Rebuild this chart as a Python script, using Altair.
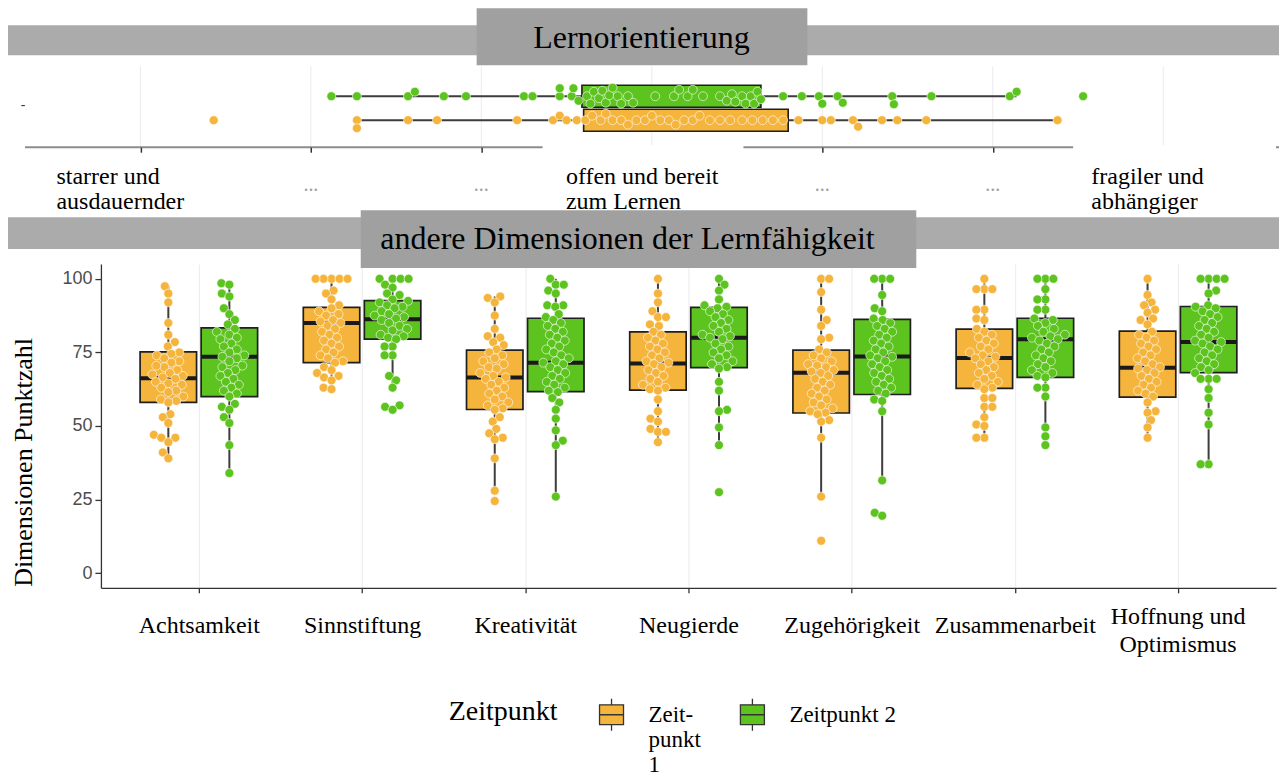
import json
import numpy as np
import pandas as pd
import altair as alt

# ---------------- Daten ----------------
zeitpunkte = ["Zeitpunkt 1", "Zeitpunkt 2"]
farben = ["#F5B43C", "#5CC31F"]

titel_oben = "Lernorientierung"
titel_unten = "andere Dimensionen der Lernfähigkeit"
y_titel = "Dimensionen Punktzahl"
legenden_titel = "Zeitpunkt"
legenden_labels = [["Zeit-", "punkt", "1"], ["Zeitpunkt 2", " ", " "]]

# obere Skala (Lernorientierung)
lern_ticks = [1, 2, 3, 4, 5, 6, 7]
lern_labels = [["starrer und", "ausdauernder"], "...", "...", ["offen und bereit", "zum Lernen"],
               "...", "...", ["fragiler und", "abhängiger"]]
lern_t1 = [1.43, 2.27, 2.27, 2.57, 2.74, 3.21, 3.42, 3.46, 3.50, 3.56, 3.61, 3.65, 3.70, 3.73, 3.77,
           3.82, 3.86, 3.91, 3.96, 4.00, 4.05, 4.10, 4.14, 4.19, 4.24, 4.28, 4.34, 4.40, 4.46, 4.53,
           4.59, 4.65, 4.71, 4.77, 4.86, 5.00, 5.05, 5.18, 5.21, 5.35, 5.44, 5.61, 6.38]
lern_t2 = [2.12, 2.27, 2.57, 2.61, 2.78, 2.91, 3.25, 3.30, 3.46, 3.46, 3.53, 3.54, 3.57, 3.62, 3.64,
           3.66, 3.69, 3.71, 3.73, 3.75, 3.77, 3.80, 3.82, 3.86, 3.89, 4.02, 4.13, 4.16, 4.21, 4.24,
           4.30, 4.40, 4.44, 4.47, 4.49, 4.53, 4.55, 4.58, 4.60, 4.62, 4.64, 4.77, 4.88, 4.98, 5.00,
           5.09, 5.12, 5.41, 5.42, 5.64, 6.10, 6.14, 6.53]
lern_lo = [2.27, 2.12]
lern_q1 = [3.60, 3.59]
lern_q3 = [4.80, 4.64]
lern_hi = [6.38, 6.14]

# untere Skala (andere Dimensionen)
dimensionen = ["Achtsamkeit", "Sinnstiftung", "Kreativität", "Neugierde", "Zugehörigkeit",
               "Zusammenarbeit", "Hoffnung und Optimismus"]
dim_labels = ["Achtsamkeit", "Sinnstiftung", "Kreativität", "Neugierde", "Zugehörigkeit",
              "Zusammenarbeit", ["Hoffnung und", "Optimismus"]]
y_ticks = [0, 25, 50, 75, 100]

achtsamkeit_t1 = [97.5, 95, 92, 85, 81, 78.5, 77, 75, 74, 74.5, 73, 72, 71.5, 70, 70.5, 69, 68, 67.5,
                  67, 66, 66.5, 65, 64.5, 64, 63, 62, 61.5, 60, 59, 58.5, 58, 54, 53, 51, 47, 46, 46,
                  44.5, 41, 39]
achtsamkeit_t2 = [98.5, 98, 95, 94, 90, 88, 86, 84.5, 83, 82, 81, 80, 79.5, 78, 77, 76, 75, 74, 73.5,
                  73, 72, 70.5, 70, 69, 68, 67, 66, 65, 64, 63, 62, 61, 60, 57.5, 56.5, 55.5, 53, 51,
                  43.5, 34]
sinnstiftung_t1 = [100, 100, 100, 100, 100, 96, 95, 93, 91, 90, 89, 88, 87.5, 86, 85.5, 85, 84, 83,
                   82, 81, 80, 79, 78, 77, 76, 75, 74, 73, 72, 71.5, 70, 69, 68, 67, 66.5, 65.5, 63,
                   62.5]
sinnstiftung_t2 = [100, 100, 100, 100, 98, 97, 95, 94.5, 93, 92.5, 92, 91, 90.5, 90, 89, 88, 87.5, 87,
                   86.5, 86, 85, 84, 83, 82.5, 81, 80.5, 80, 79.5, 77, 77, 74, 74, 67, 65.5, 63, 57,
                   56.5, 55.5]
kreativitaet_t1 = [94, 93.5, 92, 87.5, 83, 80.5, 80, 78.5, 77.5, 76, 75, 74, 73, 72, 71, 70, 69.5, 68,
                   67, 66.5, 66, 65, 64, 63, 62, 61, 60, 59, 58, 57, 56, 55.5, 53, 51.5, 49, 47.5, 46,
                   45.5, 39, 28, 24.5]
kreativitaet_t2 = [100, 98, 98, 96, 95, 91, 91, 90.5, 88, 87, 86, 85, 84, 83, 82, 81, 80, 79, 78, 77,
                   76, 75, 74, 73, 72, 71.5, 71, 70, 69, 68, 67, 66, 65, 64, 63, 62, 61.5, 59.5, 58,
                   55.5, 52.5, 48.5, 45, 43.5, 26]
neugierde_t1 = [100, 95, 92, 89, 87, 87, 84.5, 84, 82, 81, 80, 79, 78, 77, 76, 75, 74, 73, 72, 71.5,
                71, 70, 69, 68, 67, 66, 65, 64, 63, 62.5, 62, 59, 55, 52.5, 51.5, 49, 48, 48, 44.5]
neugierde_t2 = [100, 98, 96, 93, 91, 90.5, 90, 89, 88, 87, 86, 85, 84, 83, 82, 81, 80.5, 80, 79.5, 78,
                77, 76, 75, 74, 73, 72, 71, 70, 69.5, 65, 62, 55.5, 55, 49.5, 43.5, 27.5]
zugehoerigkeit_t1 = [100, 100, 95.5, 89.5, 86, 84, 80, 79.5, 76, 75, 74, 73, 72, 71, 70.5, 70, 69,
                     68.5, 68, 67, 66, 65, 64, 63, 62, 61, 60, 59, 58, 57, 56, 55, 54.5, 54, 52, 51.5,
                     46, 26, 11]
zugehoerigkeit_t2 = [100, 100, 100, 94.5, 90, 89, 86.5, 86, 85, 84, 83, 82, 81, 80, 79, 78, 77, 76, 75,
                     74, 73.5, 73, 72, 71, 70, 69, 68, 67, 66, 65, 64, 63, 62, 61, 59, 58.5, 55, 31.5,
                     20.5, 19.5]
zusammenarbeit_t1 = [100, 96.5, 96.5, 96.5, 89.5, 89.5, 86.5, 86, 83, 82, 81, 80, 79, 78, 77, 76, 75,
                     74, 73.5, 73, 72, 71, 70, 69, 68, 67, 66, 65, 64, 63, 62.5, 59.5, 59.5, 56.5, 56.5,
                     53, 50.5, 50, 46, 46]
zusammenarbeit_t2 = [100, 100, 100, 96.5, 93, 93, 89.5, 89.5, 86.5, 86, 85, 84, 83, 82, 81, 80.5, 80,
                     79.5, 79, 78, 77, 76, 75, 74, 73, 72, 71, 70, 69, 68, 67, 66.5, 63, 63, 60, 49.5,
                     46.5, 43.5]
hoffnung_t1 = [100, 94.5, 92, 91, 89.5, 88.5, 86.5, 86, 84.5, 82, 81, 80, 79, 78, 77, 76, 75, 74, 73,
               72, 71, 70, 69.5, 69, 68, 67, 66, 65, 64, 63, 62, 61, 60, 58, 55, 54.5, 52, 49.5, 46]
hoffnung_t2 = [100, 100, 100, 100, 96, 95, 91, 90.5, 90, 89, 88, 87, 86, 85, 84, 83, 82, 81, 80, 79,
               78.5, 78, 77, 76, 75, 74, 73, 72, 71, 70, 69, 68, 66, 66, 66, 62.5, 59.5, 54.5, 50.5,
               37, 37]

punkte_t1 = [achtsamkeit_t1, sinnstiftung_t1, kreativitaet_t1, neugierde_t1, zugehoerigkeit_t1,
             zusammenarbeit_t1, hoffnung_t1]
punkte_t2 = [achtsamkeit_t2, sinnstiftung_t2, kreativitaet_t2, neugierde_t2, zugehoerigkeit_t2,
             zusammenarbeit_t2, hoffnung_t2]

# Boxplot-Kennwerte je Dimension
q1_t1 = [58, 71.5, 55.6, 62.2, 54.4, 62.8, 59.8]
med_t1 = [66.2, 85, 66.5, 71.2, 68.1, 73.1, 69.8]
q3_t1 = [75.2, 90.3, 75.8, 82, 75.8, 82.9, 82.2]
lo_t1 = [39.3, 62.5, 28, 44.5, 26, 46, 46]
hi_t1 = [97.5, 100, 94, 100, 100, 100, 100]
q1_t2 = [60, 79.5, 61.7, 69.8, 60.7, 66.5, 68.1]
med_t2 = [73.5, 86.3, 71.5, 80, 73.6, 79.5, 78.5]
q3_t2 = [83.3, 92.6, 86.6, 90.3, 86.2, 86.6, 90.6]
lo_t2 = [34, 63, 26, 43.5, 31.5, 43.5, 37]
hi_t2 = [98.5, 100, 100, 100, 100, 100, 100]

# ---------------- Layout / Stil ----------------
SERIF = "Liberation Serif"
SANS = "Liberation Sans"
TOP_W, TOP_H = 1255, 81
BOT_W, BOT_H = 1176, 324
SPACER_W = 76
V_GAP = 117
TOP_XDOM = [0.323, 7.679]
TOP_YDOM = [-0.25, 3.125]
BOT_XDOM = [0.4, 7.6]
BOT_YDOM = [-5, 105]
DODGE = 0.187
HALF_BOX = 0.173
TOP_HALF = 0.458
BAND_COL = "#ababab"
BOX_COL = "#a0a0a0"
WHISK_COL = "#3d3d3d"
EDGE_COL = "#1f1f1f"
PT_SIZE = 80

px_top_x = TOP_W / (TOP_XDOM[1] - TOP_XDOM[0])
px_top_y = TOP_H / (TOP_YDOM[1] - TOP_YDOM[0])
px_bot_x = BOT_W / (BOT_XDOM[1] - BOT_XDOM[0])
px_bot_y = BOT_H / (BOT_YDOM[1] - BOT_YDOM[0])


def swarm(values, px_per_unit, d, maxoff, step=0.5):
    """deterministic beeswarm offsets (pixels) perpendicular to the value axis"""
    vals = np.asarray(values, float)
    order = np.argsort(vals, kind="stable")
    P, O = [], []
    offs = np.zeros(len(vals))
    n = int(maxoff / step)
    base = [0.0]
    for k in range(1, n + 1):
        base += [k * step, -k * step]
    for cnt, i in enumerate(order):
        p = vals[i] * px_per_unit
        cands = base if cnt % 2 == 0 else [-c for c in base]
        Pa, Oa = np.array(P), np.array(O)
        chosen = None
        for c in cands:
            if len(Pa) == 0 or np.all((Pa - p) ** 2 + (Oa - c) ** 2 >= d * d):
                chosen = c
                break
        if chosen is None:
            chosen = max(cands, key=lambda c: np.min((Pa - p) ** 2 + (Oa - c) ** 2))
        offs[i] = chosen
        P.append(p)
        O.append(chosen)
    return offs


one = pd.DataFrame({"a": [0]})
color_scale = alt.Scale(domain=zeitpunkte, range=farben)

SYMBOL = "M-0.75,-0.62H0.75V0.62H-0.75Z M0,-0.62V-1 M0,0.62V1 M-0.75,0H0.75"
legend = alt.Legend(
    orient="none", legendX=424, legendY=632, direction="horizontal",
    title=legenden_titel, titleOrient="left", titleAnchor="start", titleBaseline="top",
    titleFont=SERIF, titleFontSize=28, titleFontWeight="normal", titleColor="black",
    titlePadding=37,
    symbolType=SYMBOL, symbolSize=1024, symbolStrokeColor="#333333", symbolStrokeWidth=1.3,
    symbolOpacity=1, labelFont=SERIF, labelFontSize=23, labelColor="black", labelOffset=20,
    labelExpr=f"{json.dumps(legenden_labels, ensure_ascii=False)}[indexof({json.dumps(zeitpunkte, ensure_ascii=False)}, datum.label)]",
    labelLimit=0, columnPadding=34)


def farbe():
    return alt.Color("zeit:N", scale=color_scale, legend=legend, title=legenden_titel)


def deco_rect(x, x2, y, y2, color):
    return alt.Chart(one).mark_rect(color=color).encode(
        x=alt.value(x), x2=alt.value(x2), y=alt.value(y), y2=alt.value(y2))


def deco_text(text, x, y, size, color="black", font=SERIF):
    return alt.Chart(one).mark_text(text=text, font=font, fontSize=size, color=color,
                                    align="center", baseline="middle").encode(
        x=alt.value(x), y=alt.value(y))


# ---------------- obere Grafik ----------------
top_rows = []
for zi, vals in enumerate([lern_t1, lern_t2]):
    row = 2 if zi == 0 else 1
    offs = swarm(vals, px_top_x, 8, 11)
    for v, o in zip(vals, offs):
        top_rows.append({"zeit": zeitpunkte[zi], "wert": v, "yy": row + o / px_top_y})
top_pts = pd.DataFrame(top_rows)

top_box = pd.DataFrame({"zeit": zeitpunkte, "lo": lern_lo, "q1": lern_q1, "q3": lern_q3,
                        "hi": lern_hi, "row": [2, 1]})
top_box["y0"] = top_box["row"] - TOP_HALF
top_box["y1"] = top_box["row"] + TOP_HALF

xs_top = alt.Scale(domain=TOP_XDOM, nice=False, zero=False)
ys_top = alt.Scale(domain=TOP_YDOM, nice=False, zero=False, reverse=True)

axis_top = alt.Axis(
    values=lern_ticks, title=None, grid=False, domain=False, labels=False, zindex=1,
    tickSize=5, tickWidth=1.5,
    tickColor={"condition": {"test": "datum.value == 4 || datum.value == 7",
                             "value": "rgba(0,0,0,0)"}, "value": "#333333"},
)

grid_top = alt.Chart(pd.DataFrame({"t": lern_ticks})).mark_rule(color="#ebebeb", strokeWidth=1).encode(
    x=alt.X("t:Q", scale=xs_top, axis=axis_top), y=alt.value(0), y2=alt.value(TOP_H))
dom_top = alt.Chart(pd.DataFrame({"a": [TOP_XDOM[0]], "b": [TOP_XDOM[1]]})).mark_rule(
    color="#8c8c8c", strokeWidth=2).encode(
    x=alt.X("a:Q", scale=xs_top), x2="b:Q", y=alt.value(TOP_H))
whisk_top = alt.Chart(top_box).mark_rule(color=WHISK_COL, strokeWidth=2).encode(
    x=alt.X("lo:Q", scale=xs_top), x2="hi:Q",
    y=alt.Y("row:Q", scale=ys_top, axis=None))
box_top = alt.Chart(top_box).mark_rect(stroke=EDGE_COL, strokeWidth=1.6).encode(
    x=alt.X("q1:Q", scale=xs_top), x2="q3:Q",
    y=alt.Y("y0:Q", scale=ys_top, axis=None), y2="y1:Q",
    color=farbe())
pts_top = alt.Chart(top_pts).mark_circle(size=PT_SIZE, opacity=1, stroke="white", strokeWidth=0.8,
                                         strokeOpacity=0.75).encode(
    x=alt.X("wert:Q", scale=xs_top),
    y=alt.Y("yy:Q", scale=ys_top, axis=None),
    color=farbe())

# Beschriftung der oberen Skala (mehrzeilig, linksbündig wie im Original)
top_label_layers = []
for i, dx in zip([0, 3, 6], [-84, -86, -72]):
    top_label_layers.append(
        alt.Chart(pd.DataFrame({"t": [lern_ticks[i]]})).mark_text(
            text=lern_labels[i], align="left", baseline="middle", dx=dx, font=SERIF,
            fontSize=24, lineHeight=25, color="black").encode(
            x=alt.X("t:Q", scale=xs_top), y=alt.value(TOP_H + 30)))
dots_idx = [i for i, l in enumerate(lern_labels) if l == "..."]
top_label_layers.append(
    alt.Chart(pd.DataFrame({"t": [lern_ticks[i] for i in dots_idx]})).mark_text(
        text="...", align="center", baseline="middle", font=SERIF, fontSize=20,
        color="#a0a0a0").encode(x=alt.X("t:Q", scale=xs_top), y=alt.value(TOP_H + 38)))

top = alt.layer(
    grid_top, dom_top, whisk_top, box_top, pts_top,
    deco_rect(518, 719, 79, 150, "white"),
    deco_rect(1049, 1252, 79, 152, "white"),
    *top_label_layers,
    deco_rect(-17, 1255, -41, -11, BAND_COL),
    deco_rect(452, 783, -58, -1, BOX_COL),
    deco_text(titel_oben, 617, -28, 32),
    deco_text("-", -2, 40, 14, color="#333333", font=SANS),
).properties(width=TOP_W, height=TOP_H)

# ---------------- untere Grafik ----------------
bot_rows, box_rows = [], []
for zi, (punkte, q1, med, q3, lo, hi) in enumerate([
        (punkte_t1, q1_t1, med_t1, q3_t1, lo_t1, hi_t1),
        (punkte_t2, q1_t2, med_t2, q3_t2, lo_t2, hi_t2)]):
    dodge = -DODGE if zi == 0 else DODGE
    for di in range(len(dimensionen)):
        xc = di + 1 + dodge
        box_rows.append({"dim": dimensionen[di], "zeit": zeitpunkte[zi], "xc": xc,
                         "xl": xc - HALF_BOX, "xr": xc + HALF_BOX, "q1": q1[di], "med": med[di],
                         "q3": q3[di], "lo": lo[di], "hi": hi[di]})
        vals = punkte[di]
        offs = swarm(vals, px_bot_y, 8, 26)
        for v, o in zip(vals, offs):
            bot_rows.append({"dim": dimensionen[di], "zeit": zeitpunkte[zi], "wert": v,
                             "xp": xc + o / px_bot_x})
bot_pts = pd.DataFrame(bot_rows)
bot_box = pd.DataFrame(box_rows)

xs_bot = alt.Scale(domain=BOT_XDOM, nice=False, zero=False)
ys_bot = alt.Scale(domain=BOT_YDOM, nice=False, zero=False)

single_labels = [l if isinstance(l, str) else "" for l in dim_labels]
axis_bx = alt.Axis(
    values=list(range(1, len(dimensionen) + 1)), title=None, grid=True, gridColor="#ebebeb",
    labelExpr=f"{json.dumps(single_labels, ensure_ascii=False)}[datum.value - 1]",
    labelFont=SERIF, labelFontSize=24, labelColor="black", labelBaseline="middle",
    labelPadding=33, labelLimit=0, labelOverlap=False, labelFlush=False,
    domainColor="#333333", domainWidth=1.3, tickColor="#333333", tickSize=5, tickWidth=1.3)
axis_by = alt.Axis(
    values=y_ticks, title=y_titel, grid=False, labelFont=SANS, labelFontSize=18,
    labelColor="#4d4d4d", labelPadding=3, domainColor="#333333", domainWidth=1.3,
    tickColor="#333333", tickSize=6, tickWidth=1.3,
    titleFont=SERIF, titleFontSize=26, titleFontWeight="normal", titleColor="black",
    titleAngle=270, titleX=-77, titleY=198, titleAlign="center", titleBaseline="middle")

whisk_bot = alt.Chart(bot_box).mark_rule(color=WHISK_COL, strokeWidth=2).encode(
    x=alt.X("xc:Q", scale=xs_bot, axis=axis_bx),
    y=alt.Y("lo:Q", scale=ys_bot, axis=axis_by), y2="hi:Q")
box_bot = alt.Chart(bot_box).mark_rect(stroke=EDGE_COL, strokeWidth=1.7).encode(
    x=alt.X("xl:Q", scale=xs_bot), x2="xr:Q",
    y=alt.Y("q1:Q", scale=ys_bot), y2="q3:Q",
    color=farbe())
med_bot = alt.Chart(bot_box).mark_rule(color="#1a1a1a", strokeWidth=4).encode(
    x=alt.X("xl:Q", scale=xs_bot), x2="xr:Q",
    y=alt.Y("med:Q", scale=ys_bot))
pts_bot = alt.Chart(bot_pts).mark_circle(size=PT_SIZE, opacity=1, stroke="white", strokeWidth=0.8,
                                         strokeOpacity=0.75).encode(
    x=alt.X("xp:Q", scale=xs_bot),
    y=alt.Y("wert:Q", scale=ys_bot),
    color=farbe())

multi_idx = [i for i, l in enumerate(dim_labels) if not isinstance(l, str)]
multi_label_layers = [
    alt.Chart(pd.DataFrame({"t": [i + 1]})).mark_text(
        text=dim_labels[i], align="center", baseline="middle", font=SERIF, fontSize=24,
        lineHeight=28, color="black").encode(
        x=alt.X("t:Q", scale=xs_bot), y=alt.value(BOT_H + 29))
    for i in multi_idx]

bottom = alt.layer(
    whisk_bot, box_bot, med_bot, pts_bot, *multi_label_layers,
    deco_rect(-93, 1179, -47, -15, BAND_COL),
    deco_rect(260, 816, -54, 4, BOX_COL),
    deco_text(titel_unten, 527, -25, 32),
).properties(width=BOT_W, height=BOT_H)

spacer = alt.Chart(one).mark_point(opacity=0).encode(
    x=alt.value(0), y=alt.value(0)).properties(width=SPACER_W, height=BOT_H)

bottom_row = alt.hconcat(spacer, bottom, spacing=0, bounds="flush")
chart = alt.vconcat(top, bottom_row, spacing=V_GAP, bounds="flush").properties(
    padding=0).configure_view(stroke=None).configure_legend(
    labelFont=SERIF, titleFont=SERIF, labelFontSize=23, labelColor="black")

chart.save("out.html", embed_options={"renderer": "svg", "actions": False})
